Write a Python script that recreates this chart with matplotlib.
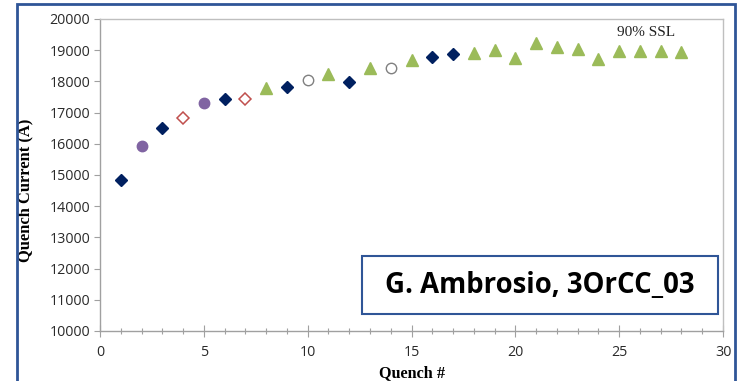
import matplotlib
matplotlib.use("Agg")
import matplotlib.pyplot as plt
from matplotlib.patches import Rectangle

# Data
navy_x = [1, 3, 6, 9, 12, 16, 17]
navy_y = [14830, 16500, 17440, 17820, 17990, 18780, 18870]
purple_x = [2, 5]
purple_y = [15940, 17310]
red_x = [4, 7]
red_y = [16830, 17450]
gray_x = [10, 14]
gray_y = [18040, 18440]
green_x = [8, 11, 13, 15, 18, 19, 20, 21, 22, 23, 24, 25, 26, 27, 28]
green_y = [17790, 18240, 18420, 18690, 18900, 19000, 18750, 19230, 19090, 19040,
           18710, 18970, 18970, 18970, 18940]

xticks = [0, 5, 10, 15, 20, 25, 30]
yticks = [10000, 11000, 12000, 13000, 14000, 15000, 16000, 17000, 18000, 19000, 20000]

fig = plt.figure(figsize=(7.38, 3.81), dpi=100)
ax = fig.add_axes([100/738, 1-331/381, 623/738, 312/381])

ax.plot(navy_x, navy_y, ls='none', marker='D', ms=6.6, color='#002060')
ax.plot(purple_x, purple_y, ls='none', marker='o', ms=7.5, color='#8064A2')
ax.plot(red_x, red_y, ls='none', marker='D', ms=6.4, mfc='white', mec='#C0504D', mew=1.1)
ax.plot(gray_x, gray_y, ls='none', marker='o', ms=7.5, mfc='white', mec='#808080', mew=1.0)
ax.plot(green_x, green_y, ls='none', marker='^', ms=9, color='#9BBB59')

ax.set_xlim(0, 30)
ax.set_ylim(10000, 20000)
ax.set_xticks(xticks)
ax.set_yticks(yticks)
ax.set_xticks(range(0, 31), minor=True)
tick_font = dict(family='Open Sans', size=10.3)
ax.set_xticklabels([str(t) for t in xticks], fontdict=tick_font, color='#2a2a2a')
ax.set_yticklabels([str(t) for t in yticks], fontdict=tick_font, color='#2a2a2a')
ax.tick_params(axis='x', which='major', direction='inout', length=8, width=0.8, color='#A0A0A0', pad=6)
ax.tick_params(axis='x', which='minor', direction='inout', length=5, width=0.8, color='#A0A0A0')
ax.tick_params(axis='y', which='major', direction='out', length=4, width=0.8, color='#A0A0A0', pad=3)
for s in ax.spines.values():
    s.set_color('#BFBFBF')
    s.set_linewidth(1.0)
ax.spines['left'].set_color('#A0A0A0')
ax.spines['bottom'].set_color('#A0A0A0')

fig.text(25/738, 1-190/381, 'Quench Current (A)', family='Liberation Serif', weight='bold',
         size=11.9, rotation=90, ha='center', va='center')
fig.text(412/738, 1-373/381, 'Quench #', family='Liberation Serif', weight='bold',
         size=11.7, ha='center', va='center')

ax.text(24.9, 19560, '90% SSL', family='Liberation Serif', size=11, color='#222222', va='center')

# outer frame
fig.patches.append(Rectangle((17/738, -0.05), (735-17)/738, 1.05-4/381, transform=fig.transFigure,
                             fill=False, ec='#2F5597', lw=2.0, zorder=10))

# annotation box
fig.patches.append(Rectangle((362/738, 1-314/381), (718-362)/738, (314-256)/381, transform=fig.transFigure,
                             fc='white', ec='#2F5597', lw=1.5, zorder=5))
fig.text((362+718)/2/738, 1-285/381, 'G. Ambrosio, 3OrCC_03', family='Open Sans', weight='bold',
         size=19.8, ha='center', va='center', color='black', zorder=6)

fig.savefig('out.png', dpi=100)
